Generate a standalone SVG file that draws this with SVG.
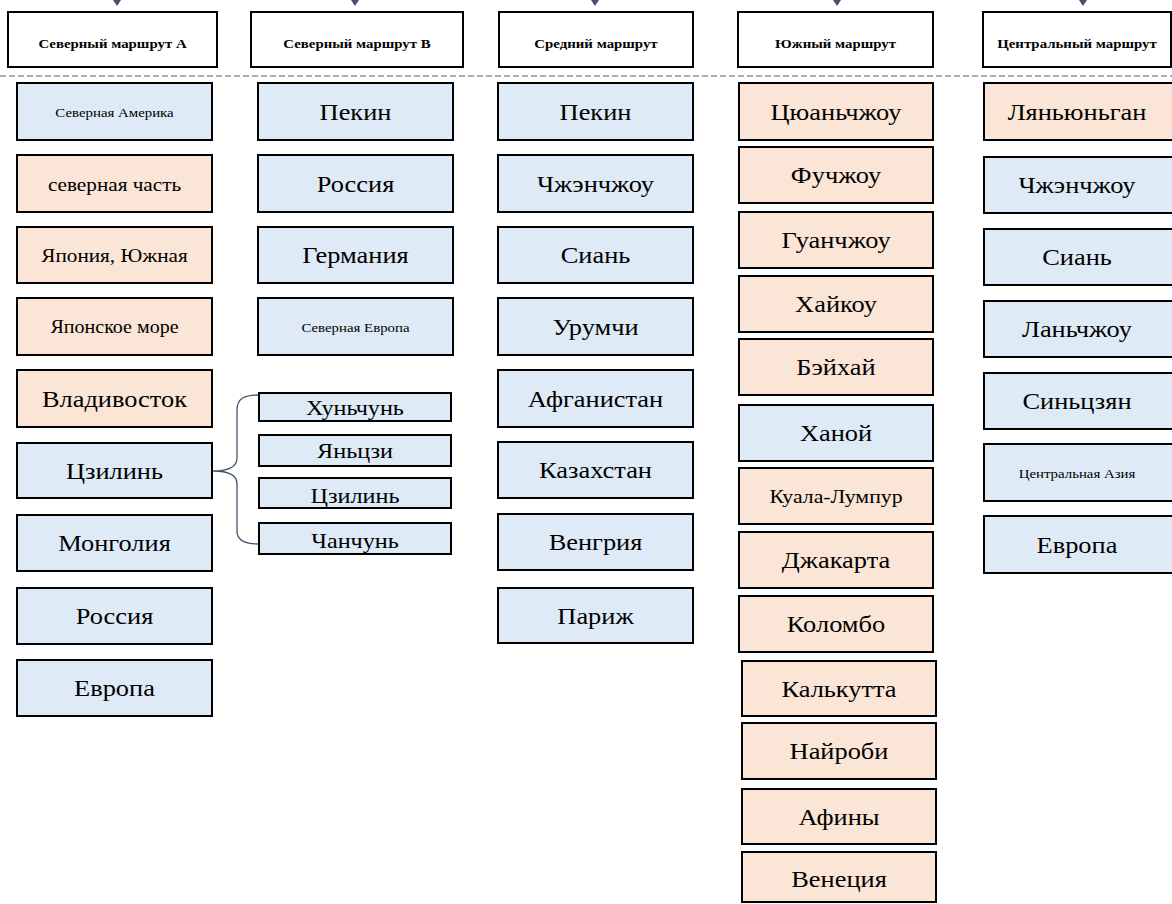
<svg xmlns="http://www.w3.org/2000/svg" width="1172" height="904" viewBox="0 0 1172 904">
<style>
rect{stroke:#000;stroke-width:2}
.hd{fill:#fff}
.bl{fill:#DEEBF7}
.pe{fill:#FBE5D6}
text{font-family:"Liberation Serif","Times New Roman","DejaVu Serif",serif;fill:#000;text-anchor:middle}
.ht{font-weight:bold;font-size:13.5px}
.t24{font-size:24px}
.t22{font-size:22px}
.t20{font-size:19.3px}
.t19{font-size:19.8px}
.t18{font-size:18.2px}
.t14{font-size:13.5px}
.conn{fill:none;stroke:#44546A;stroke-width:1.3}
.arr{fill:#44546A}
.dash{stroke:#8497B0;stroke-width:1.5;stroke-dasharray:6 3}
</style>
<g id="connectors">
<polygon class="arr" points="113,0 121,0 117,6"/>
<polygon class="arr" points="351,0 359,0 355,6"/>
<polygon class="arr" points="591,0 599,0 595,6"/>
<polygon class="arr" points="833,0 841,0 837,6"/>
<polygon class="arr" points="1079,0 1087,0 1083,6"/>
<line class="dash" x1="0" y1="76" x2="1172" y2="76"/>
<path class="conn" d="M258,395 C245,395 237,398 237,410 L237,458 C237,466 230,471 213,471 C230,471 237,476 237,484 L237,531 C237,540 245,544 258,544"/>
</g>
<!-- headers -->
<g id="h1"><rect class="hd" x="8" y="12" width="209" height="55"/><text class="ht" transform="translate(112.5 48) scale(1.1 1)">Северный маршрут А</text></g>
<g id="h2"><rect class="hd" x="251" y="12" width="212" height="55"/><text class="ht" transform="translate(357 48) scale(1.1 1)">Северный маршрут B</text></g>
<g id="h3"><rect class="hd" x="499" y="12" width="194" height="55"/><text class="ht" transform="translate(596 48) scale(1.1 1)">Средний маршрут</text></g>
<g id="h4"><rect class="hd" x="738" y="12" width="195" height="55"/><text class="ht" transform="translate(835.5 48) scale(1.1 1)">Южный маршрут</text></g>
<g id="h5"><rect class="hd" x="983" y="12" width="188" height="55"/><text class="ht" transform="translate(1077 48) scale(1.1 1)">Центральный маршрут</text></g>
<!-- column 1 -->
<g id="c1n1"><rect class="bl" x="17" y="83" width="195" height="57"/><text class="t14" transform="translate(114.5 116.5) scale(1.1 1)">Северная Америка</text></g>
<g id="c1n2"><rect class="pe" x="17" y="155" width="195" height="57"/><text class="t20" transform="translate(114.5 190.5) scale(1.1 1)">северная часть</text></g>
<g id="c1n3"><rect class="pe" x="17" y="227" width="195" height="56"/><text class="t20" transform="translate(114.5 262) scale(1.1 1)">Япония, Южная</text></g>
<g id="c1n4"><rect class="pe" x="17" y="298" width="195" height="57"/><text class="t18" transform="translate(114.5 333) scale(1.1 1)">Японское море</text></g>
<g id="c1n5"><rect class="pe" x="17" y="370" width="195" height="57"/><text class="t24" transform="translate(114.5 406.5) scale(1.1 1)">Владивосток</text></g>
<g id="c1n6"><rect class="bl" x="17" y="443" width="195" height="55"/><text class="t24" transform="translate(114.5 478.5) scale(1.1 1)">Цзилинь</text></g>
<g id="c1n7"><rect class="bl" x="17" y="515" width="195" height="56"/><text class="t24" transform="translate(114.5 551) scale(1.1 1)">Монголия</text></g>
<g id="c1n8"><rect class="bl" x="17" y="588" width="195" height="56"/><text class="t24" transform="translate(114.5 624) scale(1.1 1)">Россия</text></g>
<g id="c1n9"><rect class="bl" x="17" y="660" width="195" height="56"/><text class="t24" transform="translate(114.5 696) scale(1.1 1)">Европа</text></g>
<!-- column 2 -->
<g id="c2n1"><rect class="bl" x="258" y="83" width="195" height="57"/><text class="t24" transform="translate(355.5 119.5) scale(1.1 1)">Пекин</text></g>
<g id="c2n2"><rect class="bl" x="258" y="155" width="195" height="57"/><text class="t24" transform="translate(355.5 191.5) scale(1.1 1)">Россия</text></g>
<g id="c2n3"><rect class="bl" x="258" y="227" width="195" height="56"/><text class="t24" transform="translate(355.5 263) scale(1.1 1)">Германия</text></g>
<g id="c2n4"><rect class="bl" x="258" y="298" width="195" height="57"/><text class="t14" transform="translate(355.5 331.5) scale(1.1 1)">Северная Европа</text></g>
<g id="c2s1"><rect class="bl" x="259" y="393" width="192" height="28"/><text class="t22" transform="translate(355 415) scale(1.1 1)">Хуньчунь</text></g>
<g id="c2s2"><rect class="bl" x="259" y="435" width="192" height="31"/><text class="t22" transform="translate(355 458) scale(1.1 1)">Яньцзи</text></g>
<g id="c2s3"><rect class="bl" x="259" y="478" width="192" height="30"/><text class="t22" transform="translate(355 503) scale(1.1 1)">Цзилинь</text></g>
<g id="c2s4"><rect class="bl" x="259" y="523" width="192" height="31"/><text class="t22" transform="translate(355 548) scale(1.1 1)">Чанчунь</text></g>
<!-- column 3 -->
<g id="c3n1"><rect class="bl" x="498" y="83" width="195" height="57"/><text class="t24" transform="translate(595.5 119.5) scale(1.1 1)">Пекин</text></g>
<g id="c3n2"><rect class="bl" x="498" y="155" width="195" height="57"/><text class="t24" transform="translate(595.5 191.5) scale(1.1 1)">Чжэнчжоу</text></g>
<g id="c3n3"><rect class="bl" x="498" y="227" width="195" height="56"/><text class="t24" transform="translate(595.5 263) scale(1.1 1)">Сиань</text></g>
<g id="c3n4"><rect class="bl" x="498" y="298" width="195" height="57"/><text class="t24" transform="translate(595.5 334.5) scale(1.1 1)">Урумчи</text></g>
<g id="c3n5"><rect class="bl" x="498" y="370" width="195" height="57"/><text class="t24" transform="translate(595.5 406.5) scale(1.1 1)">Афганистан</text></g>
<g id="c3n6"><rect class="bl" x="498" y="442" width="195" height="56"/><text class="t24" transform="translate(595.5 478) scale(1.1 1)">Казахстан</text></g>
<g id="c3n7"><rect class="bl" x="498" y="514" width="195" height="56"/><text class="t24" transform="translate(595.5 550) scale(1.1 1)">Венгрия</text></g>
<g id="c3n8"><rect class="bl" x="498" y="588" width="195" height="55"/><text class="t24" transform="translate(595.5 623.5) scale(1.1 1)">Париж</text></g>
<!-- column 4 -->
<g id="c4n1"><rect class="pe" x="739" y="83" width="194" height="57"/><text class="t24" transform="translate(836 119.5) scale(1.1 1)">Цюаньчжоу</text></g>
<g id="c4n2"><rect class="pe" x="739" y="147" width="194" height="56"/><text class="t24" transform="translate(836 183) scale(1.1 1)">Фучжоу</text></g>
<g id="c4n3"><rect class="pe" x="739" y="212" width="194" height="56"/><text class="t24" transform="translate(836 248) scale(1.1 1)">Гуанчжоу</text></g>
<g id="c4n4"><rect class="pe" x="739" y="276" width="194" height="56"/><text class="t24" transform="translate(836 312) scale(1.1 1)">Хайкоу</text></g>
<g id="c4n5"><rect class="pe" x="739" y="339" width="194" height="56"/><text class="t24" transform="translate(836 375) scale(1.1 1)">Бэйхай</text></g>
<g id="c4n6"><rect class="bl" x="739" y="405" width="194" height="56"/><text class="t24" transform="translate(836 441) scale(1.1 1)">Ханой</text></g>
<g id="c4n7"><rect class="pe" x="739" y="468" width="194" height="56"/><text class="t19" transform="translate(836 502.5) scale(1.1 1)">Куала-Лумпур</text></g>
<g id="c4n8"><rect class="pe" x="739" y="532" width="194" height="56"/><text class="t24" transform="translate(836 568) scale(1.1 1)">Джакарта</text></g>
<g id="c4n9"><rect class="pe" x="739" y="596" width="194" height="56"/><text class="t24" transform="translate(836 632) scale(1.1 1)">Коломбо</text></g>
<g id="c4n10"><rect class="pe" x="742" y="661" width="194" height="55"/><text class="t24" transform="translate(839 696.5) scale(1.1 1)">Калькутта</text></g>
<g id="c4n11"><rect class="pe" x="742" y="723" width="194" height="56"/><text class="t24" transform="translate(839 759) scale(1.1 1)">Найроби</text></g>
<g id="c4n12"><rect class="pe" x="742" y="789" width="194" height="55"/><text class="t24" transform="translate(839 824.5) scale(1.1 1)">Афины</text></g>
<g id="c4n13"><rect class="pe" x="742" y="852" width="194" height="50"/><text class="t24" transform="translate(839 887) scale(1.1 1)">Венеция</text></g>
<!-- column 5 -->
<g id="c5n1"><rect class="pe" x="984" y="83" width="195" height="57"/><text class="t24" transform="translate(1077 119.5) scale(1.1 1)">Ляньюньган</text></g>
<g id="c5n2"><rect class="bl" x="984" y="157" width="195" height="56"/><text class="t24" transform="translate(1077 193) scale(1.1 1)">Чжэнчжоу</text></g>
<g id="c5n3"><rect class="bl" x="984" y="229" width="195" height="56"/><text class="t24" transform="translate(1077 265) scale(1.1 1)">Сиань</text></g>
<g id="c5n4"><rect class="bl" x="984" y="301" width="195" height="56"/><text class="t24" transform="translate(1077 337) scale(1.1 1)">Ланьчжоу</text></g>
<g id="c5n5"><rect class="bl" x="984" y="373" width="195" height="56"/><text class="t24" transform="translate(1077 409) scale(1.1 1)">Синьцзян</text></g>
<g id="c5n6"><rect class="bl" x="984" y="444" width="195" height="57"/><text class="t14" transform="translate(1077 477.5) scale(1.1 1)">Центральная Азия</text></g>
<g id="c5n7"><rect class="bl" x="984" y="516" width="195" height="57"/><text class="t24" transform="translate(1077 552.5) scale(1.1 1)">Европа</text></g>
</svg>
